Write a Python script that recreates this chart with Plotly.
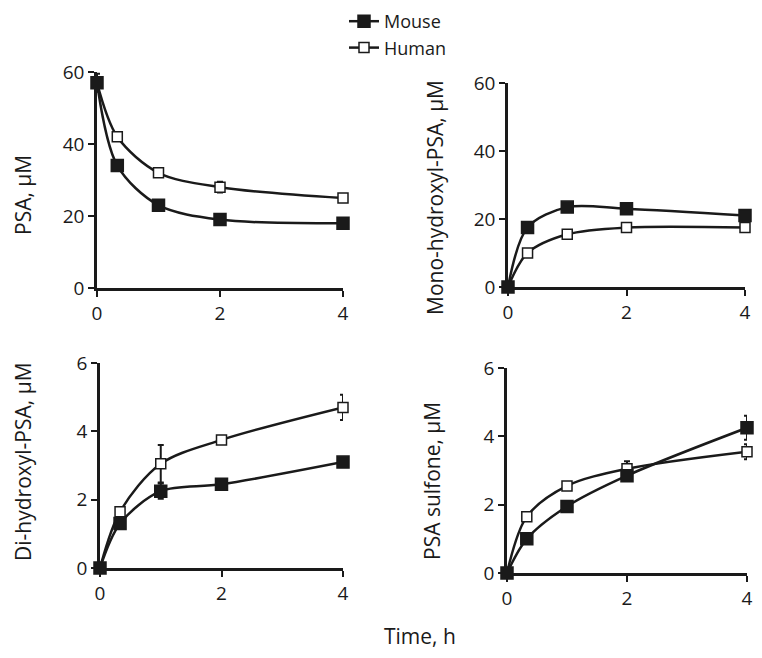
import plotly.graph_objects as go

# czasy pomiaru (h)
time_h = [0, 0.33, 1, 2, 4]

psa_mouse = [57, 34, 23, 19, 18]
psa_human = [57, 42, 32, 28, 25]
psa_mouse_err = [2.5, 0.8, 0.6, 0.5, 0.5]
psa_human_err = [0.5, 0.8, 0.8, 1.5, 0.8]

mono_mouse = [0, 17.5, 23.5, 23, 21]
mono_human = [0, 10, 15.5, 17.5, 17.5]
mono_mouse_err = [0.3, 0.5, 0.8, 0.5, 1.2]
mono_human_err = [0.3, 0.4, 0.5, 0.5, 0.5]

di_mouse = [0, 1.3, 2.25, 2.45, 3.1]
di_human = [0, 1.65, 3.05, 3.75, 4.7]
di_mouse_err = [0.02, 0.08, 0.22, 0.05, 0.08]
di_human_err = [0.02, 0.05, 0.55, 0.06, 0.37]

sulf_mouse = [0, 1.0, 1.95, 2.85, 4.25]
sulf_human = [0, 1.65, 2.55, 3.05, 3.55]
sulf_mouse_err = [0.02, 0.05, 0.05, 0.15, 0.35]
sulf_human_err = [0.02, 0.05, 0.05, 0.22, 0.22]

x_ticks = [0, 2, 4]

FONT = "'Open Sans', sans-serif"
INK = "#1a1a1a"

panels = [
    # (os, dane mysz, blad, dane czlowiek, blad, zakres y, ticki y, tytul)
    ("", psa_mouse, psa_mouse_err, psa_human, psa_human_err, 60, [0, 20, 40, 60], "PSA, μM"),
    ("2", mono_mouse, mono_mouse_err, mono_human, mono_human_err, 60, [0, 20, 40, 60], "Mono-hydroxyl-PSA, μM"),
    ("3", di_mouse, di_mouse_err, di_human, di_human_err, 6, [0, 2, 4, 6], "Di-hydroxyl-PSA, μM"),
    ("4", sulf_mouse, sulf_mouse_err, sulf_human, sulf_human_err, 6, [0, 2, 4, 6], "PSA sulfone, μM"),
]

# strona ma domyslny margines body 8 px -> figura mniejsza i przesunieta
OFF = 8
W, H = 762 - OFF, 658 - OFF


def fx(px):
    return (px - OFF) / W


def fy(py):
    return 1 - (py - OFF) / H


# domeny paneli w pikselach ekranu (lewo, prawo, gora, dol)
boxes = [
    (97, 343, 72, 288),
    (508, 745, 83, 287),
    (100, 343, 363, 568),
    (507, 747, 368, 573),
]
title_pos = [(23, 195), (435, 198), (23, 462), (432, 481)]

fig = go.Figure()
layout = {}
annotations = []

for i, (ax, m, me, hu, he, ymax, yt, ytitle) in enumerate(panels):
    xa, ya = "x" + ax, "y" + ax
    for name, vals, err, fill, size in [
        ("Human", hu, he, "white", 10),
        ("Mouse", m, me, INK, 12),
    ]:
        fig.add_trace(go.Scatter(
            x=time_h, y=vals, xaxis=xa, yaxis=ya, name=name,
            mode="lines+markers", line=dict(color=INK, width=2.5, shape="spline", smoothing=0.9),
            marker=dict(symbol="square", size=size, color=fill, line=dict(color=INK, width=1.5)),
            error_y=dict(type="data", array=err, color=INK, thickness=2, width=3),
            cliponaxis=False, showlegend=(i == 0), legendrank=(1 if name == "Mouse" else 2),
        ))
    l, r, t, b = boxes[i]
    axis_style = dict(
        showline=True, linecolor=INK, linewidth=2.5, showgrid=False, zeroline=False,
        ticks="outside", ticklen=6, tickwidth=2, tickcolor=INK,
        tickfont=dict(family=FONT, size=19, color=INK),
    )
    layout["xaxis" + ax] = dict(axis_style, domain=[fx(l), fx(r)], range=[0, 4],
                                tickvals=x_ticks, anchor=ya)
    layout["yaxis" + ax] = dict(axis_style, domain=[fy(b), fy(t)], range=[0, ymax],
                                tickvals=yt, anchor=xa)
    tx, ty = title_pos[i]
    annotations.append(dict(text=ytitle, x=fx(tx), y=fy(ty), xref="paper", yref="paper",
                            xanchor="center", yanchor="middle", textangle=-90, showarrow=False,
                            font=dict(family=FONT, size=21, color=INK)))

annotations.append(dict(text="Time, h", x=fx(420), y=fy(636), xref="paper", yref="paper",
                        xanchor="center", yanchor="middle", showarrow=False,
                        font=dict(family=FONT, size=21, color=INK)))

fig.update_layout(
    **layout,
    width=W, height=H, margin=dict(l=0, r=0, t=0, b=0, autoexpand=False),
    paper_bgcolor="white", plot_bgcolor="white",
    annotations=annotations,
    legend=dict(x=336 / W, y=fy(3), xanchor="left", yanchor="top",
                font=dict(family=FONT, size=18, color=INK), bgcolor="rgba(0,0,0,0)",
                tracegroupgap=0, itemwidth=30),
)

fig.write_html("out.html")
